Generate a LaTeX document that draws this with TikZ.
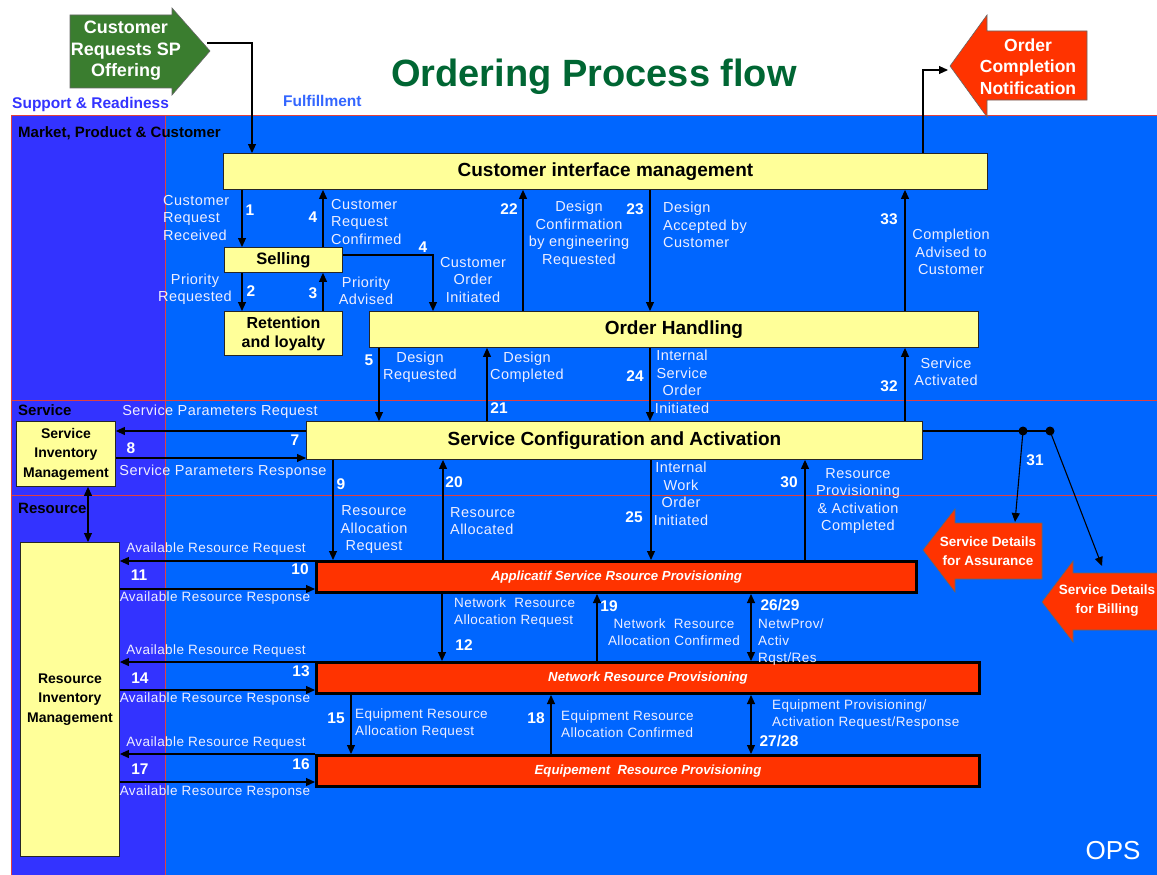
\documentclass[tikz,border=0pt]{standalone}
\usepackage{fontspec}
\setmainfont{Liberation Sans}
\newfontfamily\lblf[LetterSpace=3]{Liberation Sans}
\usetikzlibrary{arrows.meta}
\definecolor{bluebg}{HTML}{0066FF}
\definecolor{purplebg}{HTML}{3333FF}
\definecolor{yfill}{HTML}{FFFF99}
\definecolor{rfill}{HTML}{FF3300}
\definecolor{gfill}{HTML}{3A7D2F}
\definecolor{titlegreen}{HTML}{006633}
\definecolor{lblc}{HTML}{EEEEFF}
\definecolor{redline}{HTML}{E04040}
\definecolor{suptext}{HTML}{3333FF}
\definecolor{fultext}{HTML}{3366FF}
\begin{document}
\begin{tikzpicture}[x=1pt,y=-1pt,
 yb/.style={draw=black!85,fill=yfill,line width=0.9pt,inner sep=0pt,anchor=north west,font=\fontsize{19}{22}\selectfont\bfseries,align=center},
 ybs/.style={yb,font=\fontsize{14}{19.5}\selectfont\bfseries},
 rb/.style={draw=black,fill=rfill,line width=3pt,inner sep=0pt,anchor=north west,text=white,font=\fontsize{13.2}{15}\selectfont\bfseries\itshape},
 arr/.style={line width=1.1pt,-{Triangle[length=9pt,width=8pt]}},
 darr/.style={line width=1.1pt,{Triangle[length=9pt,width=8pt]}-{Triangle[length=9pt,width=8pt]}},
 lb/.style={inner sep=0pt,text=lblc,font=\lblf\fontsize{14.5}{17.5}\selectfont},
 lbs/.style={inner sep=0pt,text=lblc,font=\lblf\fontsize{13.5}{17}\selectfont},
 nm/.style={inner sep=0pt,text=white,font=\fontsize{15.5}{17}\selectfont\bfseries},
 sec/.style={inner sep=0pt,anchor=west,font=\fontsize{15}{17}\selectfont\bfseries},
 arrtext/.style={inner sep=0pt,text=white,align=center},
 rl/.style={redline,line width=0.8pt}
]
\useasboundingbox (0,0) rectangle (1157,875);
\fill[white] (0,0) rectangle (1157,875);
\fill[purplebg] (11,115) rectangle (165,875);
\fill[bluebg] (165,115) rectangle (1157,875);
\draw[rl] (11,875) -- (11,115) -- (1157,115);
\draw[rl] (165,115) -- (165,875);
\draw[rl] (11,400) -- (1157,400);
\draw[rl] (11,495) -- (1157,495);

% green input arrow
\filldraw[fill=gfill,draw=black!60,line width=0.6pt] (70,15) -- (172,15) -- (172,8) -- (210,51) -- (172,95) -- (172,88) -- (70,88) -- cycle;
\node[arrtext,font=\fontsize{18}{21.5}\selectfont\bfseries] (gtext) at (126,51) {Customer\\Requests SP\\Offering};
\coordinate (gtip) at (207,43);

% red output arrow
\filldraw[fill=rfill,draw=black!60,line width=0.6pt] (950,66) -- (987,15) -- (987,31) -- (1087,31) -- (1087,100) -- (987,100) -- (987,117) -- cycle;
\node[arrtext,font=\fontsize{17.5}{21.5}\selectfont\bfseries] (octext) at (1028,66.5) {Order\\Completion\\Notification};
\coordinate (octip) at (948,70);

% titles
\node[inner sep=0pt,text=titlegreen,font=\fontsize{38}{40}\selectfont\bfseries] (title) at (594,77) {Ordering Process flow};
\node[inner sep=0pt,anchor=west,text=suptext,font=\fontsize{15.5}{17}\selectfont\bfseries] (sup) at (12,104) {Support \& Readiness};
\node[inner sep=0pt,anchor=west,text=fultext,font=\fontsize{15.5}{17}\selectfont\bfseries] (ful) at (283,101) {Fulfillment};
\node[sec] (smkt) at (18,133) {Market, Product \& Customer};
\node[sec] (ssrv) at (18,410) {Service};
\node[sec] (sres) at (18,508) {Resource};
\node[inner sep=0pt,text=white,font=\fontsize{26}{28}\selectfont] (ops) at (1113,851) {OPS};

% boxes
\node[yb,minimum width=764pt,minimum height=36pt] (cim) at (223,153) {Customer interface management};
\node[yb,font=\fontsize{16.5}{19}\selectfont\bfseries,minimum width=118pt,minimum height=25pt] (sell) at (224,247) {Selling};
\node[yb,font=\fontsize{16}{19}\selectfont\bfseries,minimum width=118pt,minimum height=44pt] (ret) at (224,311) {Retention\\and loyalty};
\node[yb,minimum width=609pt,minimum height=36pt] (oh) at (369,311) {Order Handling};
\node[yb,minimum width=616pt,minimum height=38pt] (sca) at (306,421) {Service Configuration and Activation};
\node[ybs,minimum width=99pt,minimum height=65pt] (sim) at (16,421) {Service\\Inventory\\Management};
\node[ybs,minimum width=99pt,minimum height=314pt] (rim) at (20,542) {Resource\\Inventory\\Management};
\node[rb,minimum width=600pt,minimum height=31pt] (asrp) at (315,560) {Applicatif Service Rsource Provisioning};
\node[rb,minimum width=663pt,minimum height=31pt] (nrp) at (315,661) {Network Resource Provisioning};
\node[rb,minimum width=663pt,minimum height=31pt] (erp) at (315,754) {Equipement\ \ Resource Provisioning};

% service details arrows
\filldraw[fill=rfill,draw=black!60,line width=0.6pt] (923,550) -- (955,509) -- (955,523) -- (1042,523) -- (1042,579) -- (955,579) -- (955,592) -- cycle;
\node[arrtext,font=\fontsize{13.5}{19}\selectfont\bfseries] (sda) at (988,551) {Service Details\\for Assurance};
\filldraw[fill=rfill,draw=black!60,line width=0.6pt] (1042,602) -- (1073,561) -- (1073,573) -- (1160,573) -- (1160,630) -- (1073,630) -- (1073,642) -- cycle;
\node[arrtext,font=\fontsize{13.5}{19}\selectfont\bfseries] (sdb) at (1107,601) {Service Details\\for Billing};
\coordinate (sdatop) at (1015,522);
\coordinate (sdbtop) at (1102,566);

% top connectors
\draw[arr] (gtip) -| (cim.north -| 252,0);
\draw[arr] (cim.north -| 923,0) |- (octip);

\draw[arr] (cim.south -| 242,0) -- (sell.north -| 242,0);
\draw[arr] (sell.north -| 323,0) -- (cim.south -| 323,0);
\draw[arr] (sell.south -| 242,0) -- (ret.north -| 242,0);
\draw[arr] (ret.north -| 323,0) -- (sell.south -| 323,0);
\draw[arr] (sell.east |- 0,255) -| (oh.north -| 433,0);
\draw[arr] (oh.north -| 523,0) -- (cim.south -| 523,0);
\draw[arr] (cim.south -| 650,0) -- (oh.north -| 650,0);
\draw[arr] (oh.north -| 905,0) -- (cim.south -| 905,0);

\draw[arr] (oh.south -| 379,0) -- (sca.north -| 379,0);
\draw[arr] (sca.north -| 487,0) -- (oh.south -| 487,0);
\draw[arr] (oh.south -| 650,0) -- (sca.north -| 650,0);
\draw[arr] (sca.north -| 905,0) -- (oh.south -| 905,0);

\draw[arr] (sca.west |- 0,431) -- (sim.east |- 0,431);
\draw[arr] (sim.east |- 0,458) -- (sca.west |- 0,458);
\draw[darr] (sim.south -| 88,0) -- (rim.north -| 88,0);

\draw[arr] (sca.south -| 333,0) -- (asrp.north -| 333,0);
\draw[arr] (asrp.north -| 443,0) -- (sca.south -| 443,0);
\draw[arr] (sca.south -| 651,0) -- (asrp.north -| 651,0);
\draw[arr] (asrp.north -| 805,0) -- (sca.south -| 805,0);

% 31
\coordinate (d1) at (1023,431);
\coordinate (d2) at (1050,431);
\draw[line width=1.1pt] (sca.east |- 0,431) -- (d2);
\fill (d1) circle (4.5pt) (d2) circle (4.5pt);
\draw[arr] (d1) -- (sdatop);
\draw[arr] (d2) -- (sdbtop);

% resource connectors
\draw[arr] (asrp.west |- 0,561) -- (rim.east |- 0,561);
\draw[arr] (rim.east |- 0,589) -- (asrp.west |- 0,589);
\draw[arr] (nrp.west |- 0,662) -- (rim.east |- 0,662);
\draw[arr] (rim.east |- 0,690) -- (nrp.west |- 0,690);
\draw[arr] (erp.west |- 0,754) -- (rim.east |- 0,754);
\draw[arr] (rim.east |- 0,782) -- (erp.west |- 0,782);

\draw[arr] (asrp.south -| 442,0) -- (nrp.north -| 442,0);
\draw[arr] (nrp.north -| 597,0) -- (asrp.south -| 597,0);
\draw[darr] (asrp.south -| 751,0) -- (nrp.north -| 751,0);
\draw[arr] (nrp.south -| 351,0) -- (erp.north -| 351,0);
\draw[arr] (erp.north -| 551,0) -- (nrp.south -| 551,0);
\draw[darr] (nrp.south -| 751,0) -- (erp.north -| 751,0);

% labels
\node[lb,align=left,anchor=west] at (163,218) {Customer\\Request\\Received};
\node[nm] at (250,210) {1};
\node[nm] at (313,217) {4};
\node[lb,align=left,anchor=west] at (331,222) {Customer\\Request\\Confirmed};
\node[nm] at (423,247) {4};
\node[lb,align=center] at (473,280) {Customer\\Order\\Initiated};
\node[lb,align=center] at (195,289) {Priority\\Requested};
\node[nm] at (251,291) {2};
\node[nm] at (313,293) {3};
\node[lb,align=center] at (366,291) {Priority\\Advised};
\node[nm] at (509,209) {22};
\node[lb,align=center] at (579,234) {Design\\Confirmation\\by engineering\\Requested};
\node[nm] at (635,209) {23};
\node[lb,align=left,anchor=west] at (663,225) {Design\\Accepted by\\Customer};
\node[nm] at (889,219) {33};
\node[lb,align=center] at (951,252) {Completion\\Advised to\\Customer};
\node[nm] at (369,360) {5};
\node[lb,align=center] at (420,367) {Design\\Requested};
\node[lb,align=center] at (527,367) {Design\\Completed};
\node[nm] at (499,408) {21};
\node[nm] at (635,376) {24};
\node[lb,align=center] at (682,382) {Internal\\Service\\Order\\Initiated};
\node[nm] at (889,386) {32};
\node[lb,align=center] at (946,372) {Service\\Activated};
\node[lb] at (220,412) {Service Parameters Request};
\node[nm] at (295,440) {7};
\node[nm] at (131,448) {8};
\node[lb] at (223,472) {Service Parameters Response};
\node[nm] at (341,484) {9};
\node[lb,align=center] at (374,530) {Resource\\Allocation\\Request};
\node[nm] at (454,482) {20};
\node[lb,align=left,anchor=west] at (450,521) {Resource\\Allocated};
\node[lb,align=center] at (681,494) {Internal\\Work\\Order\\Initiated};
\node[nm] at (634,517) {25};
\node[nm] at (789,482) {30};
\node[lb,align=center] at (858,501) {Resource\\Provisioning\\\& Activation\\Completed};
\node[nm] at (1035,460) {31};

\node[lbs] at (216,549) {Available Resource Request};
\node[nm] at (300,569) {10};
\node[nm] at (139,575) {11};
\node[lbs] at (215,598) {Available Resource Response};
\node[lbs,align=left,anchor=west] at (454,613) {Network\ \ Resource\\Allocation Request};
\node[nm] at (464,645) {12};
\node[nm] at (609,606) {19};
\node[lbs,align=center] at (674,632) {Network\ \ Resource\\Allocation Confirmed};
\node[nm] at (780,605) {26/29};
\node[lbs,align=left,anchor=west] at (758,642) {NetwProv/\\Activ\\Rqst/Res};
\node[lbs] at (216,651) {Available Resource Request};
\node[nm] at (301,671) {13};
\node[nm] at (140,678) {14};
\node[lbs] at (215,699) {Available Resource Response};
\node[nm] at (336,718) {15};
\node[lbs,align=left,anchor=west] at (355,724) {Equipment Resource\\Allocation Request};
\node[nm] at (536,718) {18};
\node[lbs,align=left,anchor=west] at (561,724) {Equipment Resource\\Allocation Confirmed};
\node[lbs,align=left,anchor=west] at (772,715) {Equipment Provisioning/\\Activation Request/Response};
\node[nm] at (779,741) {27/28};
\node[lbs] at (216,743) {Available Resource Request};
\node[nm] at (301,764) {16};
\node[nm] at (140,769) {17};
\node[lbs] at (215,792) {Available Resource Response};
\end{tikzpicture}
\end{document}
